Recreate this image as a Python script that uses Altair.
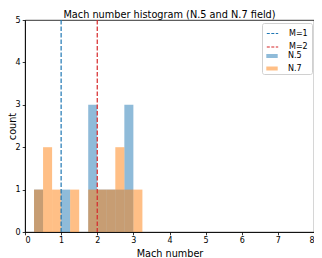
import altair as alt
import pandas as pd

# histogram bins (bin starts, width 0.25)
bin_starts = [0.25, 0.5, 0.75, 1.0, 1.25, 1.5, 1.75, 2.0, 2.25, 2.5, 2.75, 3.0]
bin_width = 0.25
counts_n5 = [1, 0, 0, 1, 0, 0, 3, 1, 1, 1, 3, 0]
counts_n7 = [1, 2, 1, 0, 1, 0, 1, 1, 1, 2, 1, 1]

ref_names = ["M=1", "M=2"]
ref_values = [1, 2]
ref_colors = ["#1f77b4", "#d62728"]

hist_names = ["N.5", "N.7"]
hist_colors = ["#1f77b4", "#ff7f0e"]

x_ticks = [0, 1, 2, 3, 4, 5, 6, 7, 8]
y_ticks = [0, 1, 2, 3, 4, 5]

rows = []
for name, counts in [("N.5", counts_n5), ("N.7", counts_n7)]:
    for s, c in zip(bin_starts, counts):
        if c > 0:
            rows.append({"series": name, "start": s, "end": s + bin_width, "count": c})
bars_df = pd.DataFrame(rows)
rules_df = pd.DataFrame({"series": ref_names, "x": ref_values})

FONT = "DejaVu Sans"

common_legend = dict(
    orient="none",
    legendX=237,
    padding=4,
    labelFont=FONT,
    labelFontSize=8,
    labelColor="black",
    symbolSize=130,
    labelOffset=10,
    rowPadding=2.5,
)

xscale = alt.Scale(domain=[0, 8], nice=False, zero=False)
yscale = alt.Scale(domain=[0, 5], nice=False)


def x_axis():
    return alt.Axis(title="Mach number", values=x_ticks, titleY=24, titleBaseline="alphabetic")


bars = alt.Chart(bars_df).mark_bar(opacity=0.5, strokeWidth=0).encode(
    x=alt.X("start:Q", scale=xscale, axis=x_axis()),
    x2="end:Q",
    y=alt.Y("count:Q", scale=yscale,
            axis=alt.Axis(title="count", values=y_ticks,
                          titleX=-10, titleY=106, titleAngle=270,
                          titleAlign="center", titleBaseline="alphabetic")),
    y2=alt.datum(0),
    fill=alt.Fill("series:N", scale=alt.Scale(domain=hist_names, range=hist_colors),
                  legend=alt.Legend(title=None, legendY=26, zindex=2,
                                    symbolType="M-1,-0.35H1V0.35H-1Z", symbolOpacity=0.5,
                                    symbolStrokeWidth=0, **common_legend)),
)

rules = alt.Chart(rules_df).mark_rule(strokeDash=[4.5, 2], strokeWidth=1.2).encode(
    x=alt.X("x:Q", scale=xscale, axis=x_axis()),
    color=alt.Color("series:N", scale=alt.Scale(domain=ref_names, range=ref_colors),
                    legend=alt.Legend(title=" ", titleOrient="bottom", titleFontSize=8,
                                      titlePadding=11, legendY=3, zindex=1,
                                      strokeColor="#d0d0d0", cornerRadius=2, fillColor="white",
                                      symbolType="stroke", symbolDash=[3, 1.5],
                                      symbolStrokeWidth=1.2, **common_legend)),
)

chart = alt.layer(bars, rules).resolve_scale(color="independent").properties(
    width=289,
    height=212,
    autosize=alt.AutoSizeParams(type="none"),
    padding={"left": 17, "top": 12, "right": 0, "bottom": 30},
    title=alt.TitleParams(
        "Mach number histogram (N.5 and N.7 field)",
        font=FONT, fontSize=9.75, fontWeight="normal", color="black",
        anchor="middle", offset=-4,
    ),
).configure_axis(
    labelFont=FONT, labelFontSize=8, labelColor="black",
    titleFont=FONT, titleFontSize=9.7, titleColor="black", titleFontWeight="normal",
    grid=False, domainColor="black", domainWidth=0.8,
    tickColor="black", tickSize=2.8, tickWidth=0.8, labelPadding=2,
).configure_view(stroke="black", strokeWidth=0.8)

chart.save("out.html", embed_options={"renderer": "svg", "actions": False})
